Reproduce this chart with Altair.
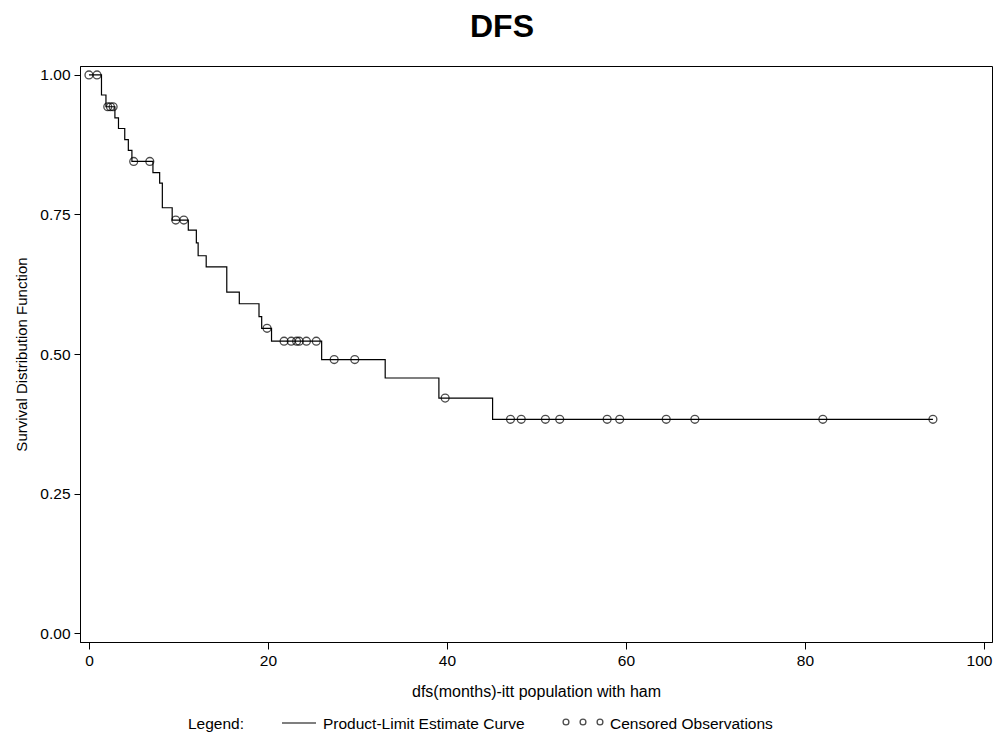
import altair as alt
import pandas as pd

# Kaplan-Meier estimate (time in months, survival after time, censored flag)
times = [0.0, 0.9, 1.4, 1.9, 2.1, 2.4, 2.7, 2.9, 3.3, 4.0, 4.4, 4.8, 5.0, 6.8,
         7.15, 7.9, 8.2, 9.3, 9.7, 10.6, 11.1, 12.0, 12.2, 13.1, 15.4, 16.8,
         19.0, 19.3, 19.9, 20.4, 21.8, 22.6, 23.2, 23.5, 24.3, 25.4, 26.0,
         27.4, 29.7, 33.1, 39.1, 39.8, 45.1, 47.1, 48.3, 51.0, 52.6, 57.9,
         59.3, 64.5, 67.7, 82.0, 94.3]
surv = [1.000, 1.000, 0.964, 0.943, 0.943, 0.943, 0.943, 0.923, 0.904, 0.884,
        0.865, 0.845, 0.845, 0.845, 0.825, 0.806, 0.762, 0.740, 0.740, 0.740,
        0.722, 0.699, 0.676, 0.656, 0.611, 0.590, 0.567, 0.546, 0.546, 0.523,
        0.523, 0.523, 0.523, 0.523, 0.523, 0.523, 0.490, 0.490, 0.490, 0.457,
        0.421, 0.421, 0.383, 0.383, 0.383, 0.383, 0.383, 0.383, 0.383, 0.383,
        0.383, 0.383, 0.383]
censored = [1, 1, 0, 0, 1, 1, 1, 0, 0, 0, 0, 0, 1, 1, 0, 0, 0, 0, 1, 1, 0, 0,
            0, 0, 0, 0, 0, 0, 1, 0, 1, 1, 1, 1, 1, 1, 0, 1, 1, 0, 0, 1, 0, 1,
            1, 1, 1, 1, 1, 1, 1, 1, 1]

x_ticks = [0, 20, 40, 60, 80, 100]
y_ticks = [0.0, 0.25, 0.5, 0.75, 1.0]

df = pd.DataFrame({"time": times, "surv": surv, "cens": censored})
cens_df = df[df["cens"] == 1]

FONT = "Liberation Sans, Arial, sans-serif"
FS = 15.5

xscale = alt.Scale(domain=[-1.0, 100.9], nice=False, zero=False)
yscale = alt.Scale(domain=[-0.016, 1.016], nice=False, zero=False)

x_enc = alt.X("time:Q", scale=xscale,
              axis=alt.Axis(values=x_ticks, title="dfs(months)-itt population with ham",
                            format="d", tickSize=7, labelPadding=4, titlePadding=15,
                            titleFontSize=16,
                            labelAlign=alt.ExprRef(expr="datum.value >= 100 ? 'right' : 'center'"),
                            labelOffset=alt.ExprRef(expr="datum.value >= 100 ? 8 : 0")))
y_enc = alt.Y("surv:Q", scale=yscale,
              axis=alt.Axis(values=y_ticks, title="Survival Distribution Function",
                            format=".2f", tickSize=6, labelPadding=4, titlePadding=10,
                            titleFontSize=15))

curve = alt.Chart(df).mark_line(interpolate="step-after", color="black",
                                strokeWidth=1.2).encode(x=x_enc, y=y_enc)

points = alt.Chart(cens_df).mark_point(shape="circle", filled=False, size=62,
                                       color="black", strokeWidth=1.3).encode(
    x="time:Q", y="surv:Q")

# legend drawn below the plot
LY = 658
leg_label = alt.Chart().mark_text(font=FONT, fontSize=FS, align="center",
                                  baseline="middle", color="black").encode(
    x=alt.value(136), y=alt.value(LY), text=alt.value("Legend:"))
leg_line = alt.Chart().mark_rule(color="black", strokeWidth=1.2).encode(
    x=alt.value(202), x2=alt.value(236), y=alt.value(LY - 1))
leg_text1 = alt.Chart().mark_text(font=FONT, fontSize=FS, align="left",
                                  baseline="middle", color="black").encode(
    x=alt.value(243), y=alt.value(LY), text=alt.value("Product-Limit Estimate Curve"))
leg_c = [alt.Chart().mark_point(shape="circle", filled=False, size=34, color="black",
                                strokeWidth=1.3).encode(x=alt.value(px), y=alt.value(LY - 2))
         for px in (486, 503, 520)]
leg_text2 = alt.Chart().mark_text(font=FONT, fontSize=FS, align="left",
                                  baseline="middle", color="black").encode(
    x=alt.value(530), y=alt.value(LY), text=alt.value("Censored Observations"))

chart = alt.layer(curve, points, leg_label, leg_line, leg_text1, *leg_c, leg_text2).properties(
    width=912, height=576,
    title=alt.TitleParams("DFS", fontSize=32, font=FONT, fontWeight="bold",
                          anchor="middle", dx=-34, offset=22, color="black"),
    autosize=alt.AutoSizeParams(type="none"),
    padding={"left": 72, "top": 58, "right": 1, "bottom": 90},
).configure(background="white").configure_view(
    stroke="black", strokeWidth=1
).configure_axis(
    grid=False, domainColor="black", tickColor="black", labelColor="black",
    titleColor="black", labelFont=FONT, titleFont=FONT, labelFontSize=FS,
    titleFontWeight="normal", domainWidth=1, tickWidth=1
)

chart.save("out.html", embed_options={"renderer": "svg", "actions": False})
